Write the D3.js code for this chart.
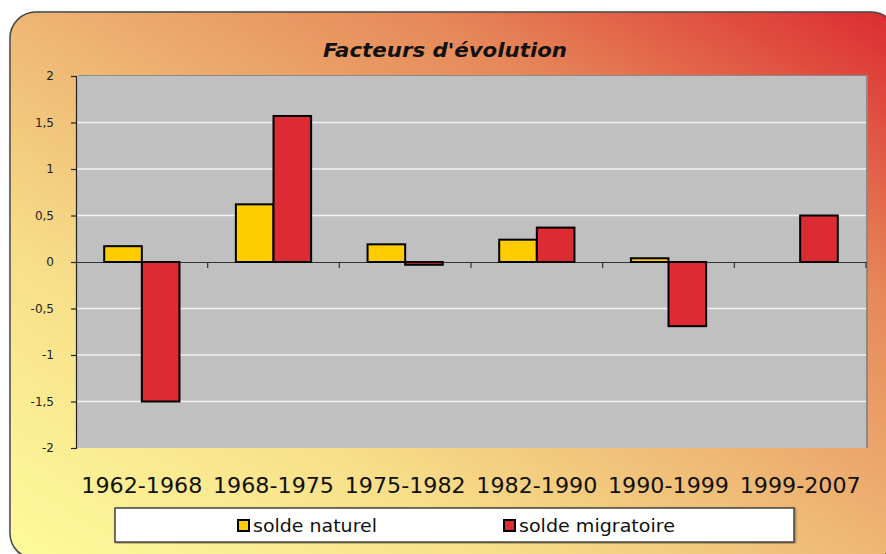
<!DOCTYPE html>
<html>
<head>
<meta charset="utf-8">
<script src="https://cdn.jsdelivr.net/npm/d3@7"></script>
<style>
  body { margin: 0; background: #fff; }
  svg { display: block; }
  text { font-family: "DejaVu Sans", Verdana, sans-serif; }
</style>
</head>
<body>
<div id="wrapper"></div>
<script>
// Data
const periods = ["1962-1968", "1968-1975", "1975-1982", "1982-1990", "1990-1999", "1999-2007"]
const soldeNaturel = [0.17, 0.62, 0.19, 0.24, 0.04, 0]
const soldeMigratoire = [-1.5, 1.57, -0.03, 0.37, -0.69, 0.5]
const seriesNames = ["solde naturel", "solde migratoire"]
const seriesColors = ["#ffcc00", "#dd2b33"]
const yTicks = [-2, -1.5, -1, -0.5, 0, 0.5, 1, 1.5, 2]

const dataset = periods.map((p, i) => ({
  period: p,
  values: [soldeNaturel[i], soldeMigratoire[i]],
}))

const dimensions = {
  width: 886,
  height: 554,
  plot: { left: 76, right: 866, top: 76, bottom: 448 },
}

const svg = d3.select("#wrapper")
  .append("svg")
    .attr("width", dimensions.width)
    .attr("height", dimensions.height)

const defs = svg.append("defs")
const grad = defs.append("linearGradient")
    .attr("id", "bg")
    .attr("x1", 0).attr("y1", 1)
    .attr("x2", 1).attr("y2", 0)
const stops = [
  [0, "#fefb9c"], [0.28, "#f7df8a"], [0.5, "#eeb673"],
  [0.73, "#e6895a"], [1, "#dc2a30"],
]
stops.forEach(([o, c]) => grad.append("stop").attr("offset", o).attr("stop-color", c))

const shadow = defs.append("filter").attr("id", "shadow")
    .attr("x", "-5%").attr("y", "-5%").attr("width", "110%").attr("height", "110%")
shadow.append("feDropShadow")
    .attr("dx", 1).attr("dy", 1).attr("stdDeviation", 1)
    .attr("flood-color", "#000").attr("flood-opacity", 0.4)

// Chart area frame
svg.append("rect")
    .attr("x", 10).attr("y", 12)
    .attr("width", 887).attr("height", 547)
    .attr("rx", 26)
    .attr("fill", "url(#bg)")
    .attr("stroke", "#4a4a4a")
    .attr("stroke-width", 1.5)
    .attr("filter", "url(#shadow)")

// Title (glyphs stretched to the Verdana-like width of the original)
svg.append("text")
    .attr("x", 445).attr("y", 57)
    .attr("text-anchor", "middle")
    .attr("font-size", 19)
    .attr("font-weight", "bold")
    .attr("font-style", "italic")
    .attr("textLength", 244)
    .attr("lengthAdjust", "spacingAndGlyphs")
    .attr("fill", "#111")
    .text("Facteurs d'évolution")

const plotLeft = dimensions.plot.left
const plotRight = dimensions.plot.right
const plotTop = dimensions.plot.top
const plotBottom = dimensions.plot.bottom

const xScale = d3.scaleBand()
  .domain(periods)
  .range([plotLeft, plotRight])

const barWidth = xScale.bandwidth() / 3.5
const xInner = d3.scaleBand()
  .domain(seriesNames)
  .range([barWidth * 0.75, barWidth * 2.75])

const yScale = d3.scaleLinear()
  .domain([-2, 2])
  .range([plotBottom, plotTop])

// Plot area with shadow edge
svg.append("rect")
    .attr("x", plotLeft + 2).attr("y", plotTop - 1)
    .attr("width", plotRight - plotLeft).attr("height", plotBottom - plotTop + 1)
    .attr("fill", "#8a8a8a")
svg.append("rect")
    .attr("x", plotLeft).attr("y", plotTop)
    .attr("width", plotRight - plotLeft).attr("height", plotBottom - plotTop)
    .attr("fill", "#c0c0c0")

// Gridlines
svg.append("g")
  .selectAll("line")
  .data(yTicks.filter(t => t !== 0 && Math.abs(t) !== 2))
  .join("line")
    .attr("x1", plotLeft).attr("x2", plotRight)
    .attr("y1", d => yScale(d)).attr("y2", d => yScale(d))
    .attr("stroke", "#f2f2f2")
    .attr("stroke-width", 1.5)

// Y axis
const yAxisGenerator = d3.axisLeft(yScale)
  .tickValues(yTicks)
  .tickSize(5)
  .tickPadding(17)
  .tickFormat(d => String(d).replace(".", ","))

const yAxis = svg.append("g")
    .attr("transform", `translate(${plotLeft},0)`)
    .call(yAxisGenerator)
yAxis.select(".domain").attr("stroke", "#222").attr("stroke-width", 1.2)
yAxis.selectAll(".tick line").attr("stroke", "#222").attr("stroke-width", 1.2)
yAxis.selectAll(".tick text")
    .attr("font-family", "DejaVu Sans, Verdana, sans-serif")
    .attr("font-size", 12)
    .attr("fill", "#222")

// Zero line with category ticks
const xAxisGenerator = d3.axisBottom(xScale)
  .tickSize(0)
  .tickFormat("")
const xAxis = svg.append("g")
    .attr("transform", `translate(0,${yScale(0)})`)
    .call(xAxisGenerator)
xAxis.select(".domain").attr("stroke", "#333").attr("stroke-width", 1.2)
xAxis.selectAll(".tick").remove()

svg.append("g")
  .selectAll("line")
  .data(periods.slice(1).concat(["__end"]))
  .join("line")
    .attr("x1", d => d === "__end" ? plotRight : xScale(d))
    .attr("x2", d => d === "__end" ? plotRight : xScale(d))
    .attr("y1", yScale(0))
    .attr("y2", yScale(0) + 6)
    .attr("stroke", "#333")
    .attr("stroke-width", 1.2)

// Bars
const groups = svg.append("g")
  .selectAll("g")
  .data(dataset)
  .join("g")
    .attr("transform", d => `translate(${xScale(d.period)},0)`)

groups.selectAll("rect")
  .data(d => d.values
    .map((v, i) => ({ name: seriesNames[i], value: v, color: seriesColors[i] }))
    .filter(b => b.value !== 0))
  .join("rect")
    .attr("x", d => xInner(d.name))
    .attr("width", xInner.bandwidth())
    .attr("y", d => yScale(Math.max(0, d.value)))
    .attr("height", d => Math.abs(yScale(d.value) - yScale(0)))
    .attr("fill", d => d.color)
    .attr("stroke", "#000")
    .attr("stroke-width", 2)

// Category labels
svg.append("g")
  .selectAll("text")
  .data(periods)
  .join("text")
    .attr("x", d => xScale(d) + xScale.bandwidth() / 2)
    .attr("y", 493)
    .attr("text-anchor", "middle")
    .attr("font-size", 21)
    .attr("textLength", 121)
    .attr("lengthAdjust", "spacingAndGlyphs")
    .attr("fill", "#111")
    .text(d => d)

// Legend
const legend = svg.append("g")
legend.append("rect")
    .attr("x", 115).attr("y", 508)
    .attr("width", 679).attr("height", 34)
    .attr("fill", "#fff")
    .attr("stroke", "#444")
    .attr("stroke-width", 1.5)
    .attr("filter", "url(#shadow)")

const legendX = [238, 504]
const legendTextLength = [124, 156]
const items = legend.selectAll("g.item")
  .data(seriesNames)
  .join("g")
    .attr("class", "item")
    .attr("transform", (d, i) => `translate(${legendX[i]},520)`)
items.append("rect")
    .attr("width", 11).attr("height", 11)
    .attr("fill", (d, i) => seriesColors[i])
    .attr("stroke", "#000")
    .attr("stroke-width", 2)
items.append("text")
    .attr("x", 15).attr("y", 11.5)
    .attr("font-size", 17)
    .attr("textLength", (d, i) => legendTextLength[i])
    .attr("lengthAdjust", "spacingAndGlyphs")
    .attr("fill", "#111")
    .text(d => d)
</script>
</body>
</html>
